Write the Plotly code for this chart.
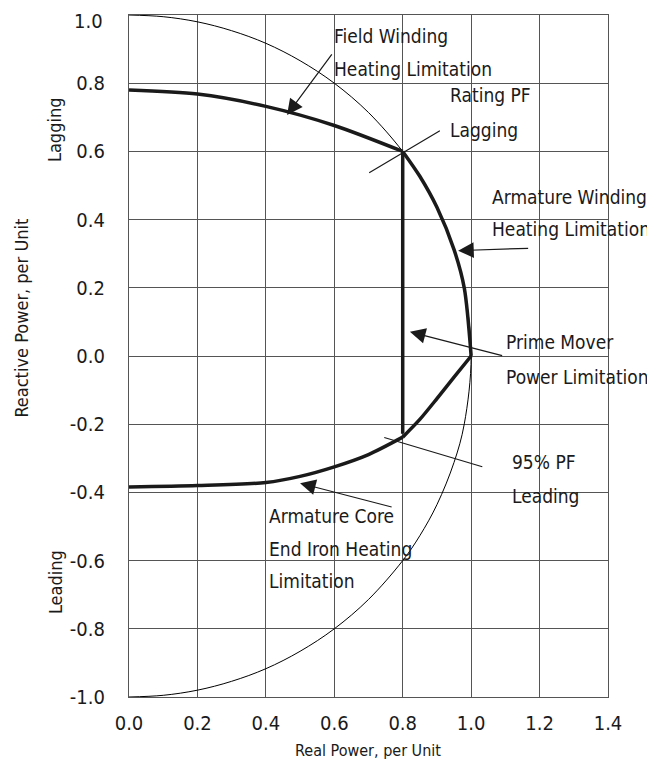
import plotly.graph_objects as go

# ---- data ----
circle_x = [0.0, 0.1, 0.2, 0.3, 0.4, 0.5, 0.6, 0.7, 0.8, 0.85, 0.9, 0.95, 0.98, 1.0,
            0.98, 0.95, 0.9, 0.85, 0.8, 0.7, 0.6, 0.5, 0.4, 0.3, 0.2, 0.1, 0.0]
circle_y = [1.0, 0.995, 0.98, 0.954, 0.917, 0.866, 0.8, 0.714, 0.6, 0.527, 0.436, 0.312, 0.199, 0.0,
            -0.199, -0.312, -0.436, -0.527, -0.6, -0.714, -0.8, -0.866, -0.917, -0.954, -0.98, -0.995, -1.0]

field_x = [0.0, 0.2, 0.4, 0.6, 0.8]
field_y = [0.78, 0.768, 0.732, 0.676, 0.6]

armature_x = [0.8, 0.85, 0.9, 0.95, 0.98, 1.0]
armature_y = [0.6, 0.527, 0.436, 0.312, 0.199, 0.0]

prime_x = [0.8, 0.8]
prime_y = [0.6, -0.228]

lead_upper_x = [1.0, 0.95, 0.9, 0.85, 0.8]
lead_upper_y = [0.0, -0.062, -0.125, -0.186, -0.238]

lead_lower_x = [0.8, 0.7, 0.6, 0.5, 0.4, 0.2, 0.0]
lead_lower_y = [-0.238, -0.289, -0.325, -0.353, -0.371, -0.38, -0.384]

x_ticks = [0.0, 0.2, 0.4, 0.6, 0.8, 1.0, 1.2, 1.4]
x_tick_labels = ["0.0", "0.2", "0.4", "0.6", "0.8", "1.0", "1.2", "1.4"]
y_ticks = [1.0, 0.8, 0.6, 0.4, 0.2, 0.0, -0.2, -0.4, -0.6, -0.8, -1.0]
y_tick_labels = ["1.0", "0.8", "0.6", "0.4", "0.2", "0.0", "-0.2", "-0.4", "-0.6", "-0.8", "-1.0"]

TICK_FONT = "Liberation Sans Narrow, DejaVu Sans Condensed, sans-serif"
TEXT_FONT = "DejaVu Sans Condensed, Liberation Sans Narrow, sans-serif"
INK = "#1a1a1a"

fig = go.Figure()

fig.add_trace(go.Scatter(x=circle_x, y=circle_y, mode="lines",
                         line=dict(color="black", width=1, shape="spline", smoothing=1.0),
                         hoverinfo="skip", showlegend=False))
thick = dict(color=INK, width=3.5)
for xs, ys, shp in [(field_x, field_y, "spline"), (armature_x, armature_y, "spline"),
                    (prime_x, prime_y, "linear"), (lead_upper_x, lead_upper_y, "spline"),
                    (lead_lower_x, lead_lower_y, "spline")]:
    fig.add_trace(go.Scatter(x=xs, y=ys, mode="lines",
                             line=dict(shape=shp, smoothing=0.8, **thick),
                             hoverinfo="skip", showlegend=False))

ann = []
text_font = dict(family=TEXT_FONT, size=19, color=INK)

def label(x, y, t):
    ann.append(dict(x=x, y=y, xref="x", yref="y", text=t, showarrow=False,
                    xanchor="left", yanchor="middle", font=text_font))

label(0.594, 0.938, "Field Winding")
label(0.594, 0.842, "Heating Limitation")
label(0.932, 0.764, "Rating PF")
label(0.932, 0.662, "Lagging")
label(1.056, 0.466, "Armature Winding")
label(1.056, 0.372, "Heating Limitation")
label(1.095, 0.040, "Prime Mover")
label(1.095, -0.061, "Power Limitation")
label(1.115, -0.310, "95% PF")
label(1.115, -0.410, "Leading")
label(0.403, -0.469, "Armature Core")
label(0.403, -0.566, "End Iron Heating")
label(0.403, -0.661, "Limitation")

def pointer(hx, hy, tx, ty, head):
    ann.append(dict(x=hx, y=hy, ax=tx, ay=ty, xref="x", yref="y", axref="x", ayref="y",
                    text="", showarrow=True, arrowhead=2 if head else 0,
                    arrowsize=2.6, arrowwidth=1.2, arrowcolor=INK, standoff=0))

pointer(0.462, 0.707, 0.596, 0.889, True)     # field winding
pointer(0.702, 0.5375, 0.913, 0.663, False)  # rating PF
pointer(0.962, 0.309, 1.171, 0.316, True)     # armature winding
pointer(0.821, 0.071, 1.095, 0.0, True)       # prime mover
pointer(0.746, -0.239, 1.037, -0.326, False)  # 95% PF leading
pointer(0.5, -0.373, 0.772, -0.444, True)     # armature core

# page layout (page pixels); the page body adds an 8px offset
W, H = 655, 760
BODY = 8
plot_left, plot_right, plot_top, plot_bottom = 128.5, 608, 15, 697
L = plot_left - BODY
T = plot_top - BODY
R = W - L - (plot_right - plot_left)
B = H - T - (plot_bottom - plot_top)
pw, ph = plot_right - plot_left, plot_bottom - plot_top

def paper_text(px, py, t, size, angle=0, family=TEXT_FONT, xanchor="center"):
    ann.append(dict(x=(px - plot_left) / pw, y=(plot_bottom - py) / ph,
                    xref="paper", yref="paper", text=t, showarrow=False,
                    textangle=angle, xanchor=xanchor, yanchor="middle",
                    font=dict(family=family, size=size, color=INK)))

paper_text(20, 318, "Reactive Power, per Unit", 18, -90)
paper_text(54.5, 130, "Lagging", 18, -90)
paper_text(54.5, 582, "Leading", 18, -90)
paper_text(368, 750, "Real Power, per Unit", 16)

# the top tick label sits slightly below its grid line (it would overflow the page otherwise)
y_tick_text = [("" if v == 1.0 else t) for v, t in zip(y_ticks, y_tick_labels)]
paper_text(104, 21, y_tick_labels[0], 20, family=TICK_FONT, xanchor="right")

grid = "#555555"
fig.update_layout(
    width=W, height=H,
    margin=dict(l=L, r=R, t=T, b=B, autoexpand=False),
    paper_bgcolor="white", plot_bgcolor="white",
    annotations=ann,
    xaxis=dict(range=[0, 1.4], tickvals=x_ticks, ticktext=x_tick_labels,
               showgrid=True, gridcolor=grid, gridwidth=1, zeroline=False,
               showline=True, linecolor=grid, linewidth=1.2, mirror=True,
               ticks="", ticklabelstandoff=8, automargin=False,
               tickfont=dict(family=TICK_FONT, size=20, color=INK)),
    yaxis=dict(range=[-1, 1], tickvals=y_ticks, ticktext=y_tick_text,
               showgrid=True, gridcolor=grid, gridwidth=1, zeroline=False,
               showline=True, linecolor=grid, linewidth=1.2, mirror=True,
               ticks="", ticklabelstandoff=19, automargin=False,
               tickfont=dict(family=TICK_FONT, size=20, color=INK)),
)

fig.write_html("out.html")
